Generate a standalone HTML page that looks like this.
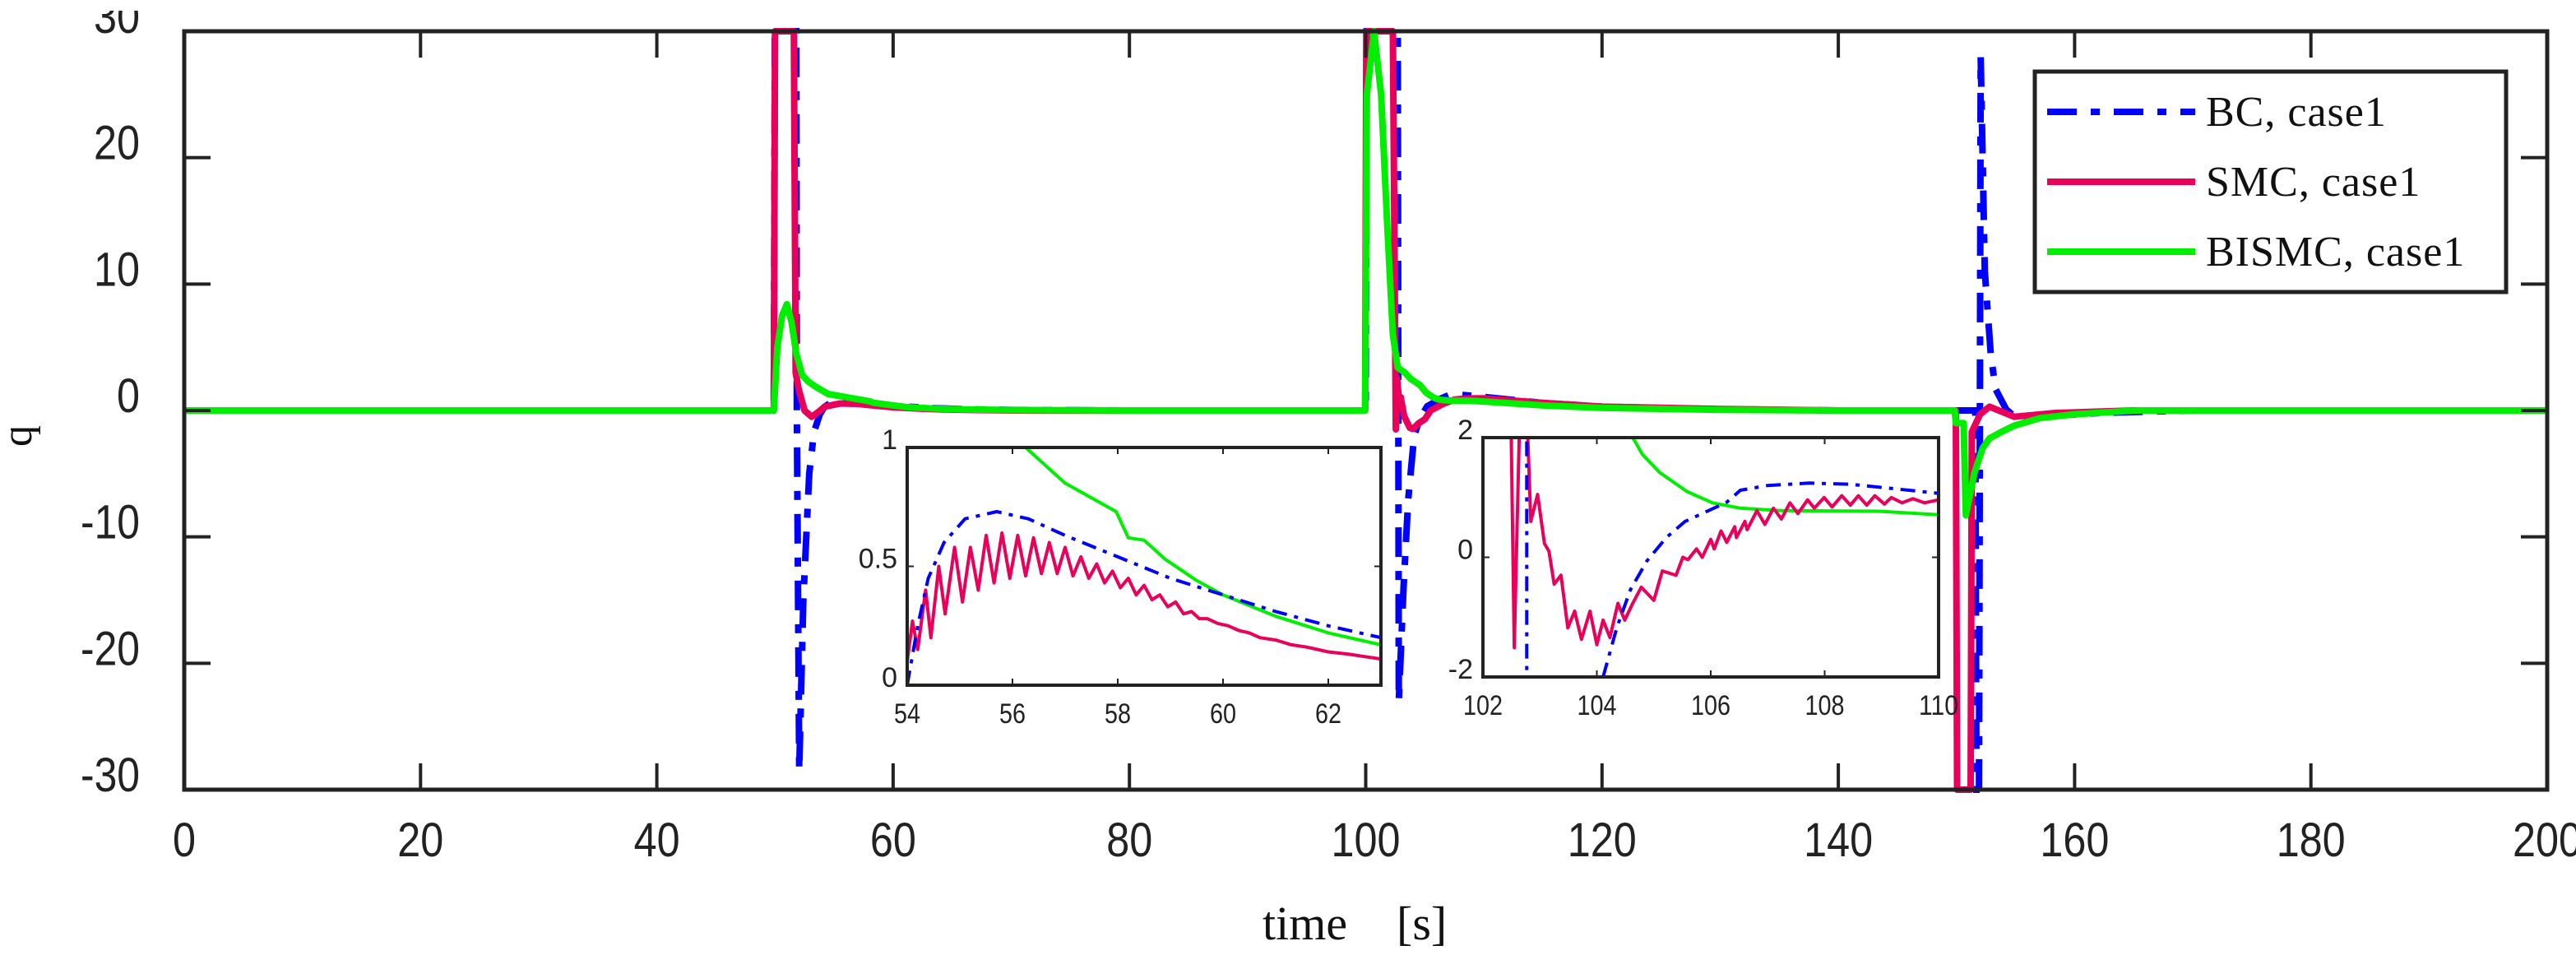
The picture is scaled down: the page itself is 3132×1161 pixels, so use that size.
<!DOCTYPE html>
<html><head><meta charset="utf-8"><style>
html,body{margin:0;padding:0;background:#fff;}
svg{display:block;}
.tk{font-family:"Liberation Sans",sans-serif;fill:#222;}
.sr{font-family:"Liberation Serif",serif;fill:#111;}
</style></head><body>
<svg id="chart" xmlns="http://www.w3.org/2000/svg" width="3132" height="1161" viewBox="0 0 3132 1161">
<defs>
<clipPath id="mainClip"><rect x="224" y="34" width="2873" height="930"/></clipPath>
<clipPath id="in1Clip"><rect x="1103" y="544" width="576" height="289"/></clipPath>
<clipPath id="in2Clip"><rect x="1803" y="532" width="554" height="291"/></clipPath>
<clipPath id="topClip"><rect x="0" y="13" width="3132" height="1148"/></clipPath>
</defs>
<rect x="0" y="0" width="3132" height="1161" fill="#fff"/>
<g id="mainLines" clip-path="url(#mainClip)"></g>
<g id="mainAxes"></g>
<g id="inset1"></g>
<g id="inset2"></g>
<text class="sr" x="1535" y="1142" font-size="58">time</text>
<text class="sr" x="1698" y="1142" font-size="58">[s]</text>
<text class="sr" x="0" y="0" font-size="52" transform="translate(38,530) rotate(-90)" text-anchor="middle">q</text>
<g>
<rect x="2474" y="87" width="573" height="268" fill="#fff" stroke="#222" stroke-width="5"/>
<line x1="2489" y1="136" x2="2669" y2="136" stroke="#0000ff" stroke-width="8" stroke-dasharray="36,17,11,17"/>
<text class="sr" x="2682" y="153" font-size="52" letter-spacing="1">BC, case1</text>
<line x1="2489" y1="221" x2="2669" y2="221" stroke="#e8005a" stroke-width="8"/>
<text class="sr" x="2682" y="238" font-size="52" letter-spacing="1">SMC, case1</text>
<line x1="2489" y1="306" x2="2669" y2="306" stroke="#00ee00" stroke-width="8"/>
<text class="sr" x="2682" y="323" font-size="52" letter-spacing="1">BISMC, case1</text>
</g>
</svg>
<script>
// ---- main chart data ----
const xTicks = [0,20,40,60,80,100,120,140,160,180,200];
const yTicks = [-30,-20,-10,0,10,20,30];
const bcMain = [[0,0],[49.9,0],[50.0,35],[51.8,35],[51.85,0],[52.05,-28.5],[52.4,-15],[52.9,-5],[53.3,-1.7],[53.8,-0.3],[54.2,0.3],[54.7,0.6],[55.7,0.73],[57,0.63],[58,0.54],[60,0.38],[63,0.2],[66,0.1],[70,0.04],[80,0],[100,0],[100.1,35],[102.7,35],[102.8,-23],[103.2,-14],[103.6,-7],[104.1,-2],[104.6,-0.6],[105.2,0.33],[106.3,0.92],[107,1.2],[108,1.24],[110,1.07],[115,0.6],[120,0.3],[130,0.1],[140,0],[151.6,0],[151.7,-35],[151.9,-35],[152.05,28],[152.4,11],[152.9,4.5],[153.3,1.7],[154.2,0.1],[155.2,-0.7],[157,-0.5],[162,-0.2],[170,0],[200,0]];
const smcMain = [[0,0],[49.9,0],[50.0,30],[51.6,30],[51.75,3],[52,1.7],[52.5,0],[53.1,-0.5],[53.7,-0.1],[54.2,0.3],[55.5,0.55],[57,0.52],[58,0.42],[60,0.25],[63,0.11],[66,0.05],[70,0],[99.95,0],[100.05,30],[102.3,30],[102.55,-1.5],[102.65,2.5],[102.84,0.6],[102.96,1.05],[103.25,-0.45],[103.73,-1.37],[104.0,-1.46],[104.5,-1.0],[105.0,-0.7],[105.5,0],[106.5,0.5],[107.5,0.85],[108.5,0.95],[110,0.96],[115,0.6],[120,0.3],[130,0.12],[140,0],[149.95,0],[150.05,-30],[151.2,-30],[151.3,-1.7],[152,-0.3],[152.8,0.3],[154.9,-0.5],[158.3,-0.2],[165,0],[200,0]];
const bismcMain = [[0,0],[49.9,0],[50.2,5],[50.6,7.5],[51.0,8.4],[51.4,7],[51.8,4.5],[52.3,2.8],[52.8,2.3],[53.4,1.9],[54.5,1.3],[56.3,1.0],[58,0.73],[58.3,0.61],[59,0.52],[61,0.28],[63,0.17],[66,0.08],[70,0.03],[80,0],[99.95,0],[100.1,25],[100.7,30],[101.3,25],[101.8,15],[102.3,6],[102.7,3.4],[103.3,3],[103.8,2.5],[104.6,2],[105.1,1.42],[105.6,1.1],[106.0,0.91],[106.5,0.82],[107.2,0.78],[109,0.77],[110,0.71],[115,0.4],[120,0.2],[130,0.05],[140,0],[149.85,0],[149.95,-1],[150.6,-1],[150.8,-8.3],[151.5,-5],[152.2,-3],[152.8,-2.2],[153.8,-1.7],[154.9,-1.2],[157.1,-0.6],[160,-0.3],[165.3,0],[200,0]];
// ---- inset 1 data (54..63) ----
const in1XTicks = [54,56,58,60,62];
const in1YTicks = [0,0.5,1];
const in1YLabels = ["0","0.5","1"];
const bcIn1 = [[54,0],[54.2,0.25],[54.4,0.45],[54.7,0.6],[55.1,0.7],[55.7,0.73],[56.3,0.7],[57,0.63],[58,0.54],[59,0.45],[60,0.38],[61,0.31],[62,0.25],[63,0.2]];
const smcIn1 = [[54.0,0.1],[54.1,0.27],[54.2,0.15],[54.35,0.4],[54.45,0.2],[54.6,0.5],[54.72,0.3],[54.9,0.58],[55.05,0.35],[55.2,0.58],[55.35,0.4],[55.5,0.63],[55.65,0.43],[55.8,0.64],[55.95,0.45],[56.1,0.63],[56.25,0.46],[56.4,0.62],[56.55,0.47],[56.7,0.6],[56.85,0.47],[57.0,0.58],[57.15,0.46],[57.3,0.54],[57.45,0.45],[57.6,0.51],[57.75,0.43],[57.9,0.48],[58.05,0.41],[58.2,0.45],[58.35,0.38],[58.5,0.42],[58.65,0.36],[58.8,0.38],[58.95,0.33],[59.1,0.35],[59.25,0.3],[59.4,0.31],[59.55,0.28],[59.7,0.28],[59.9,0.26],[60.1,0.25],[60.3,0.23],[60.5,0.22],[60.7,0.2],[61,0.19],[61.3,0.17],[61.6,0.16],[62,0.14],[62.4,0.13],[62.7,0.12],[63,0.11]];
const bismcIn1 = [[56.25,1.0],[57,0.85],[57.97,0.73],[58.2,0.62],[58.5,0.61],[58.9,0.53],[59.5,0.44],[60,0.38],[61,0.29],[62,0.22],[63,0.17]];
// ---- inset 2 data (102..110) ----
const in2XTicks = [102,104,106,108,110];
const in2YTicks = [-2,0,2];
const in2YLabels = ["-2","0","2"];
const bcIn2 = [[102.77,2.5],[102.77,-2.5]];
const bcIn2b = [[104.11,-2],[104.35,-1.18],[104.59,-0.54],[104.88,-0.06],[105.22,0.33],[105.55,0.6],[106.28,0.92],[106.52,1.12],[107.0,1.2],[107.73,1.24],[108.45,1.22],[109.17,1.15],[110,1.07]];
const smcIn2 = [[102.49,2.5],[102.55,-1.51],[102.6,0.5],[102.65,2.5],[102.77,2.5],[102.84,0.6],[102.96,1.05],[103.08,0.23],[103.16,0.1],[103.25,-0.45],[103.37,-0.3],[103.49,-1.18],[103.61,-0.9],[103.73,-1.37],[103.88,-0.9],[104.0,-1.46],[104.11,-1.05],[104.23,-1.34],[104.37,-0.77],[104.49,-1.05],[104.63,-0.77],[104.78,-0.5],[105.0,-0.72],[105.15,-0.23],[105.39,-0.3],[105.51,0],[105.6,-0.04],[105.75,0.14],[105.85,0.0],[106.0,0.3],[106.06,0.14],[106.18,0.44],[106.28,0.25],[106.42,0.51],[106.45,0.33],[106.6,0.6],[106.64,0.46],[106.81,0.78],[106.95,0.55],[107.1,0.82],[107.24,0.64],[107.39,0.91],[107.53,0.73],[107.7,0.96],[107.82,0.82],[107.99,1.0],[108.13,0.84],[108.3,1.03],[108.45,0.87],[108.59,1.03],[108.74,0.87],[108.88,1.03],[109.05,0.89],[109.17,1.0],[109.36,0.91],[109.55,0.98],[109.75,0.91],[110,0.96]];
const bismcIn2 = [[104.57,2.1],[104.8,1.72],[105.1,1.42],[105.58,1.1],[106.03,0.91],[106.52,0.82],[107.24,0.78],[108.93,0.77],[110,0.71]];

const NS = "http://www.w3.org/2000/svg";
function mk(tag, attrs, parent){const e=document.createElementNS(NS,tag);for(const k in attrs)e.setAttribute(k,attrs[k]);parent.appendChild(e);return e;}

const X0=224,X1=3097,Y0=960,Y1=38;
function mx(t){return X0+(t-0)/(200-0)*(X1-X0);}
function my(v){return Y0-(v-(-30))/(60)*(Y0-Y1);}
function pts(arr,fx,fy){return arr.map(p=>fx(p[0]).toFixed(1)+","+fy(p[1]).toFixed(1)).join(" ");}

const ml=document.getElementById("mainLines");
let l;
l=mk("polyline",{points:pts(bcMain,mx,my),fill:"none",stroke:"#0000ff","stroke-width":8,"stroke-dasharray":"36,17,11,17"},ml);


l=mk("polyline",{points:pts(smcMain,mx,my),fill:"none",stroke:"#e8005a","stroke-width":8,"stroke-linejoin":"round"},ml);


l=mk("polyline",{points:pts(bismcMain,mx,my),fill:"none",stroke:"#00ee00","stroke-width":8,"stroke-linejoin":"round"},ml);



const ax=document.getElementById("mainAxes");
let r=mk("rect",{x:X0,y:Y1,width:X1-X0,height:Y0-Y1,fill:"none",stroke:"#222","stroke-width":5},ax);


xTicks.forEach(t=>{
  const x=mx(t);
  if(t>0&&t<200){
    let a=mk("line",{x1:x,y1:Y0,x2:x,y2:Y0-32,stroke:"#222","stroke-width":4},ax);
    
    
    let b=mk("line",{x1:x,y1:Y1,x2:x,y2:Y1+32,stroke:"#222","stroke-width":4},ax);
    
    
  }
  const s=String(t);
  let tx=mk("text",{x:x,y:1041,"text-anchor":"middle","font-size":58,class:"tk",textLength:s.length*28,lengthAdjust:"spacingAndGlyphs"},ax);
  tx.textContent=s;
  
  
});
yTicks.forEach(v=>{
  const y=my(v);
  if(v>-30&&v<30){
    let a=mk("line",{x1:X0,y1:y,x2:X0+32,y2:y,stroke:"#222","stroke-width":4},ax);
    
    
    let b=mk("line",{x1:X1,y1:y,x2:X1-32,y2:y,stroke:"#222","stroke-width":4},ax);
    
    
  }
  const s=String(v);
  const w=s.replace("-","").length*28+(s.startsWith("-")?16:0);
  let tx=mk("text",{x:170,y:y+2,"text-anchor":"end","font-size":58,class:"tk","clip-path":"url(#topClip)",textLength:w,lengthAdjust:"spacingAndGlyphs"},ax);
  tx.textContent=s;
  
  
});

function inset(gid,clip,bx0,bx1,by0,by1,xmin,xmax,ymin,ymax,xt,yt,ylab,series){
  const g=document.getElementById(gid);
  const fx=t=>bx0+(t-xmin)/(xmax-xmin)*(bx1-bx0);
  const fy=v=>by1-(v-ymin)/(ymax-ymin)*(by1-by0);
  let bg=mk("rect",{x:bx0,y:by0,width:bx1-bx0,height:by1-by0,fill:"#fff"},g);
  
  
  const lg=mk("g",{"clip-path":"url(#"+clip+")"},g);
  series.forEach(s=>{
    const attrs={points:pts(s.d,fx,fy),fill:"none",stroke:s.c,"stroke-width":4,"stroke-linejoin":"round"};
    if(s.dash)attrs["stroke-dasharray"]="18,9,5,9";
    let p=mk("polyline",attrs,lg);
    
    
  });
  let fr=mk("rect",{x:bx0,y:by0,width:bx1-bx0,height:by1-by0,fill:"none",stroke:"#222","stroke-width":4},g);
  
  
  xt.forEach(t=>{
    const x=fx(t);
    if(t>xmin&&t<xmax){
      let a=mk("line",{x1:x,y1:by1,x2:x,y2:by1-8,stroke:"#222","stroke-width":2},g);
      
      
      let b=mk("line",{x1:x,y1:by0,x2:x,y2:by0+8,stroke:"#222","stroke-width":2},g);
      
      
    }
    const s=String(t);
    let tx=mk("text",{x:x,y:by1+46,"text-anchor":"middle","font-size":34,class:"tk",textLength:s.length*16,lengthAdjust:"spacingAndGlyphs"},g);
    tx.textContent=s;
    
    
  });
  yt.forEach((v,i)=>{
    const y=fy(v);
    if(v>ymin&&v<ymax){
      let a=mk("line",{x1:bx0,y1:y,x2:bx0+8,y2:y,stroke:"#222","stroke-width":2},g);
      
      
      let b=mk("line",{x1:bx1,y1:y,x2:bx1-8,y2:y,stroke:"#222","stroke-width":2},g);
      
      
    }
    let tx=mk("text",{x:bx0-12,y:y+2,"text-anchor":"end","font-size":34,class:"tk"},g);
    tx.textContent=ylab[i];
    
    
  });
}
inset("inset1","in1Clip",1103,1679,544,833,54,63,0,1,in1XTicks,in1YTicks,in1YLabels,[
  {d:bismcIn1,c:"#00ee00",n:"inset1-bismc-line"},
  {d:smcIn1,c:"#e8005a",n:"inset1-smc-line"},
  {d:bcIn1,c:"#0000ff",dash:true,n:"inset1-bc-line"}]);
inset("inset2","in2Clip",1803,2357,532,823,102,110,-2,2,in2XTicks,in2YTicks,in2YLabels,[
  {d:bismcIn2,c:"#00ee00",n:"inset2-bismc-line"},
  {d:smcIn2,c:"#e8005a",n:"inset2-smc-line"},
  {d:bcIn2,c:"#0000ff",dash:true,n:"inset2-bc-line-a"},
  {d:bcIn2b,c:"#0000ff",dash:true,n:"inset2-bc-line-b"}]);
</script>
</body></html>
